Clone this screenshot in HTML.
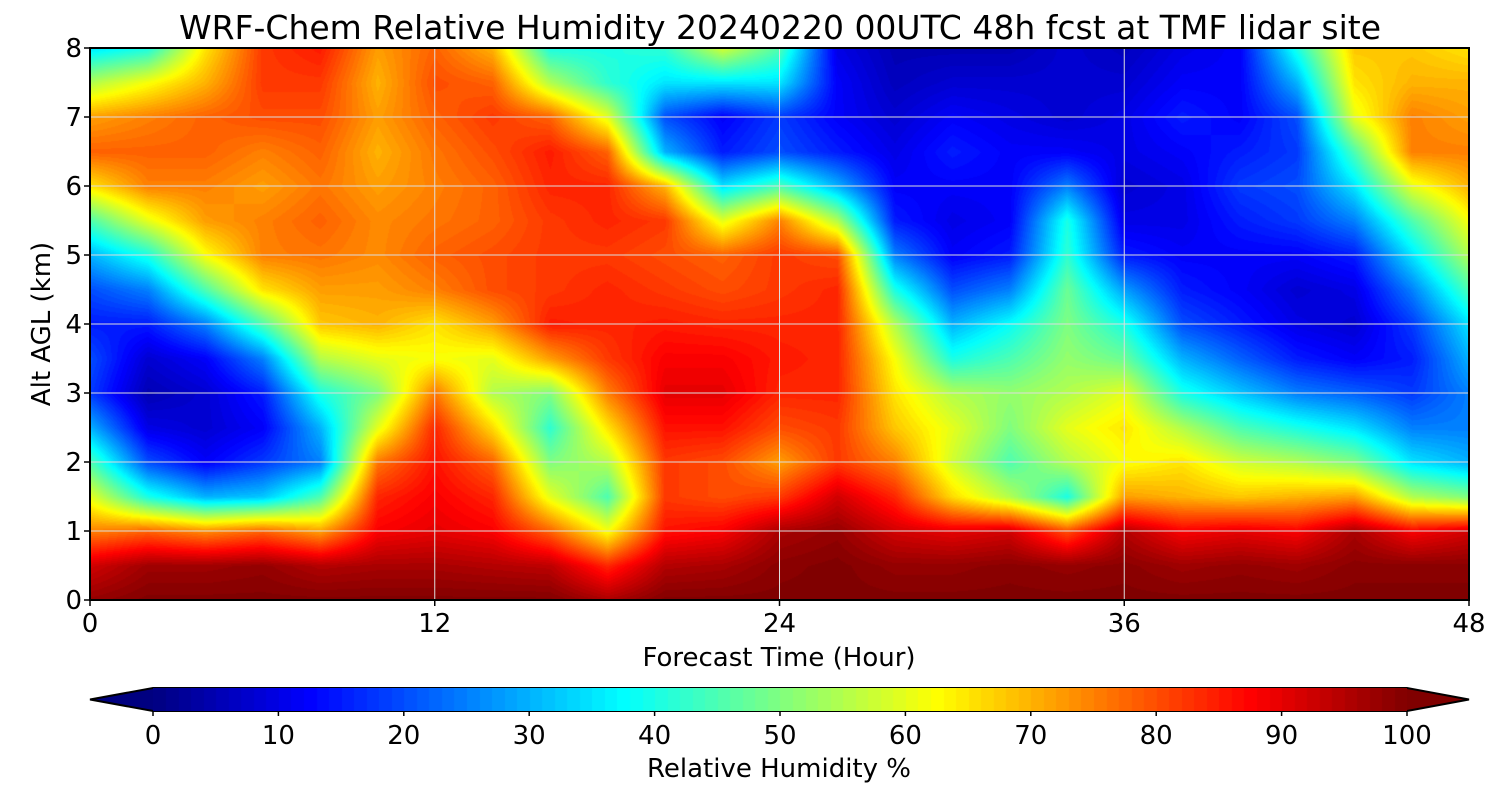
<!DOCTYPE html>
<html><head><meta charset="utf-8">
<style>
body{margin:0;background:#fff;font-family:"Liberation Sans","DejaVu Sans",sans-serif;}
#wrap{position:relative;width:1500px;height:800px;overflow:hidden;}
canvas{position:absolute;}
.t{position:absolute;color:#000;white-space:nowrap;}
</style></head><body>
<div id="wrap">
<div class="t" style="left:0;width:1560px;text-align:center;top:8px;font-size:33px;font-family:'DejaVu Sans',sans-serif;">WRF-Chem Relative Humidity 20240220 00UTC 48h fcst at TMF lidar site</div>
<canvas id="plot" width="1379" height="552" style="left:90px;top:48px"></canvas>
<svg id="ov" width="1500" height="800" style="position:absolute;left:0;top:0"></svg>
<canvas id="cbar" width="1254" height="23" style="left:153px;top:688px"></canvas>
</div>
<script>
const hours=[0,2,4,6,8,10,12,14,16,18,20,22,24,26,28,30,32,34,36,38,40,42,44,46,48];
const alts=[0,0.5,1,1.5,2,2.5,3,3.5,4,4.5,5,5.5,6,6.5,7,7.5,8];
const rh=[
[98,92,75,60,45,30,18,20,15,20,30,45,65,78,72,55,35],
[100,97,78,40,20,10,5,8,15,25,40,60,75,78,75,62,40],
[100,97,74,30,12,8,8,12,25,45,62,72,75,78,78,70,65],
[100,98,78,32,18,12,15,25,45,65,75,75,72,75,80,82,82],
[100,95,72,45,25,30,40,55,68,72,76,78,76,78,80,82,85],
[100,96,88,84,76,60,50,60,70,72,74,74,72,70,72,70,72],
[100,96,90,88,86,84,76,62,65,75,78,76,75,76,78,80,78],
[100,95,88,84,78,66,55,60,72,80,80,78,78,80,82,78,70],
[100,94,78,60,50,42,50,72,85,82,82,82,84,85,78,55,40],
[96,84,62,45,55,65,75,82,84,84,82,84,84,78,60,42,40],
[100,95,86,82,82,86,90,88,85,82,80,82,70,30,20,35,42],
[100,96,88,80,80,86,90,88,84,80,78,60,35,15,12,35,58],
[100,99,96,82,72,80,84,85,84,82,82,75,45,20,18,35,45],
[100,100,98,92,82,82,84,84,84,84,80,55,30,15,12,12,10],
[100,98,92,84,75,68,65,62,55,40,25,15,12,10,8,6,5],
[100,98,90,66,58,60,55,40,30,20,12,10,12,15,12,8,5],
[100,99,92,55,45,50,52,45,38,25,15,12,12,12,10,8,5],
[100,98,80,40,55,60,55,52,50,48,42,40,25,12,8,8,8],
[100,99,95,72,62,65,60,48,40,28,15,10,8,10,10,8,6],
[100,97,88,70,65,55,40,30,20,15,12,10,10,12,15,12,10],
[100,98,90,68,58,45,32,22,15,12,12,15,18,15,12,12,12],
[100,97,88,70,55,40,25,15,10,8,12,18,20,18,20,30,40],
[100,99,96,72,50,35,22,12,8,10,15,25,35,45,60,65,68],
[100,99,88,55,35,25,18,15,18,25,35,45,60,75,75,70,68],
[100,99,92,50,30,25,25,30,35,45,55,62,70,75,72,70,65]];
const xTicks=[0,12,24,36,48];
const yTicks=[0,1,2,3,4,5,6,7,8];
const cbTicks=[0,10,20,30,40,50,60,70,80,90,100];

const PL=90,PT=48,PW=1379,PH=552;
const xS=h=>PL+h/48*PW, yS=a=>PT+PH-a/8*PH;
function jet(v){let x=Math.max(0,Math.min(1,v/100));
 const f=c=>Math.max(0,Math.min(1,1.5-Math.abs(4*x-c)));
 return [f(3)*255,f(2)*255,f(1)*255];}
function lvl(v){return Math.round(v);}
(function(){
 const c=document.getElementById('plot').getContext('2d');
 const img=c.createImageData(PW,PH);
 for(let py=0;py<PH;py++){
  const a=(PH-py)/PH*8; let j=Math.min(alts.length-2,Math.floor(a/0.5)); let ty=(a-alts[j])/(alts[j+1]-alts[j]);
  for(let px=0;px<PW;px++){
   const h=px/PW*48; let i=Math.min(hours.length-2,Math.floor(h/2)); let tx=(h-hours[i])/(hours[i+1]-hours[i]);
   const v=(rh[i][j]*(1-tx)+rh[i+1][j]*tx)*(1-ty)+(rh[i][j+1]*(1-tx)+rh[i+1][j+1]*tx)*ty;
   const col=jet(lvl(v)); const k=(py*PW+px)*4;
   img.data[k]=col[0];img.data[k+1]=col[1];img.data[k+2]=col[2];img.data[k+3]=255;}
 }
 c.putImageData(img,0,0);
 const cb=document.getElementById('cbar').getContext('2d');
 for(let px=0;px<1254;px++){const col=jet(Math.floor(px/1254*100)+0.5);cb.fillStyle=`rgb(${col.map(Math.round)})`;cb.fillRect(px,0,1,23);}
})();
const ov=document.getElementById('ov'),NS='http://www.w3.org/2000/svg';
function mk(t,at,p){const e=document.createElementNS(NS,t);for(const k in at)e.setAttribute(k,at[k]);(p||ov).appendChild(e);return e;}
xTicks.forEach(v=>{const x=xS(v);
 const g=mk('line',{x1:x,x2:x,y1:PT,y2:PT+PH,stroke:'#ddd','stroke-width':1});
 
 
 mk('line',{x1:x,x2:x,y1:PT+PH,y2:PT+PH+6,stroke:'#000','stroke-width':1.5});
 const t=mk('text',{x:x,y:632,'text-anchor':'middle','font-size':26,'font-family':'DejaVu Sans, sans-serif'});t.textContent=v;
 
 });
yTicks.forEach(v=>{const y=yS(v);
 const g=mk('line',{x1:PL,x2:PL+PW,y1:y,y2:y,stroke:'#ddd','stroke-width':1});
 
 
 mk('line',{x1:PL-6,x2:PL,y1:y,y2:y,stroke:'#000','stroke-width':1.5});
 const t=mk('text',{x:PL-8,y:y+9,'text-anchor':'end','font-size':26,'font-family':'DejaVu Sans, sans-serif'});t.textContent=v;
 
 });
const fr=mk('rect',{x:PL,y:PT,width:PW,height:PH,fill:'none',stroke:'#000','stroke-width':2});


let xl=mk('text',{x:779,y:666,'text-anchor':'middle','font-size':26,'font-family':'DejaVu Sans, sans-serif'});xl.textContent='Forecast Time (Hour)';


let yl=mk('text',{x:0,y:0,'text-anchor':'middle','font-size':26,'font-family':'DejaVu Sans, sans-serif',transform:'translate(50,324) rotate(-90)'});yl.textContent='Alt AGL (km)';


const c0=jet(0),c1=jet(100);
let tl=mk('polygon',{points:'153,688 90,699.5 153,711',fill:`rgb(${c0.map(Math.round)})`});


let tr=mk('polygon',{points:'1407,688 1469,699.5 1407,711',fill:`rgb(${c1.map(Math.round)})`});


mk('polygon',{points:'153,688 1407,688 1469,699.5 1407,711 153,711 90,699.5',fill:'none',stroke:'#000','stroke-width':2});
cbTicks.forEach(v=>{const x=153+v/100*1254;
 mk('line',{x1:x,x2:x,y1:711,y2:716,stroke:'#000','stroke-width':1.5});
 const t=mk('text',{x:x,y:744,'text-anchor':'middle','font-size':26,'font-family':'DejaVu Sans, sans-serif'});t.textContent=v;
 
 });
let cl=mk('text',{x:779,y:777,'text-anchor':'middle','font-size':26,'font-family':'DejaVu Sans, sans-serif'});cl.textContent='Relative Humidity %';


</script>
</body></html>
